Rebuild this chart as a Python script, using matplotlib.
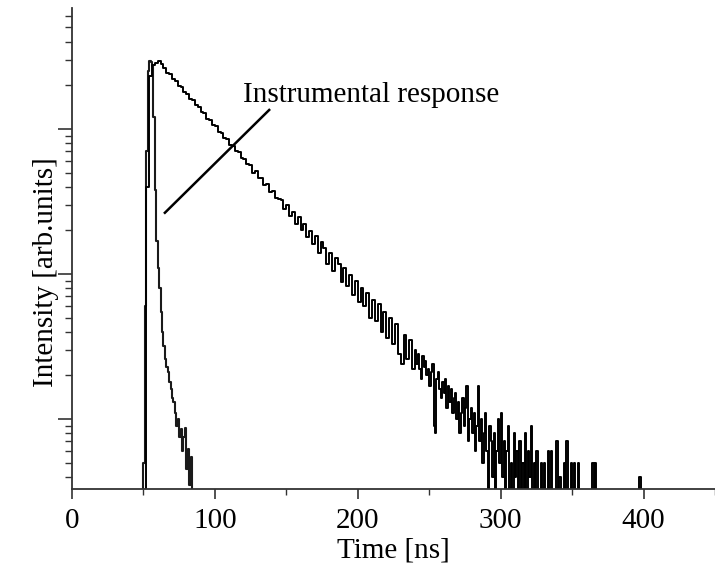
import numpy as np
import matplotlib
matplotlib.use("Agg")
import matplotlib.pyplot as plt
from matplotlib.ticker import LogLocator, NullFormatter, MultipleLocator

plt.rcParams['font.family'] = ['Liberation Serif', 'DejaVu Serif']

# decay curve, first part in 2 ns bins starting at 46 ns
head_t0, head_dt = 46, 2
decay_head = [0.5, 0.5, 3, 400, 2300, 2750, 2850, 2950, 2780, 2640,
              2430, 2390, 2200, 2150, 1960, 1950, 1790, 1750, 1600, 1580,
              1450, 1420, 1300, 1290, 1170, 1150, 1060, 1040, 950, 940,
              860, 850, 770, 760, 700, 690, 630, 615, 570, 560,
              500, 510, 460, 455, 410, 415, 370, 375, 335, 330,
              325, 280, 300, 250, 268, 222, 245, 200, 222, 180,
              198, 160, 182, 140, 165, 150, 118, 140, 105, 128,
              118, 88, 110, 82, 98, 72, 90, 64, 80, 60,
              74, 50, 66, 47, 62, 40, 55, 36, 50, 33,
              45, 28, 24, 38, 26, 35, 22]

# decay curve, tail in 1 ns bins starting at 240 ns
tail_t0, tail_dt = 240, 1
decay_tail = [30, 24, 28, 22, 19, 27, 23, 25, 20, 22,
              17, 21, 24, 9, 8, 19, 21, 16, 14, 18,
              15, 19, 12, 17, 13, 16, 11, 14, 15, 10,
              13, 8, 11, 14, 9, 12, 17, 7, 10, 12,
              8, 11, 6, 9, 17, 7, 10, 5, 8, 11,
              6, 3, 9, 7, 4, 8, 2, 6, 10, 5,
              11, 4, 7, 2, 6, 9, 3, 5, 1, 8,
              4, 6, 2, 7, 1, 5, 3, 8, 0.5, 6,
              4, 9, 2, 5, 0.5, 6, 3, 0.5, 5, 1,
              5, 0.5, 3, 6, 0.5, 6, 2, 0.5, 0.5, 7,
              0.5, 4, 0.5, 0.5, 5, 0.5, 7, 0.5, 0.5, 5,
              0.5, 5, 0.5, 0.5, 5, 0.5, 0.5, 1, 0.5, 0.5,
              0.5, 0.5, 0.5, 0.5, 5, 0.5, 5, 0.5, 0.5, 0.5,
              0.5, 0.5, 0.5, 0.5, 0.5, 0.5, 0.5, 0.5, 0.5, 0.5,
              0.5, 0.5, 0.5, 0.5, 0.5, 0.5, 0.5, 0.5, 0.5, 0.5,
              0.5, 0.5, 0.5, 0.5, 0.5, 0.5, 0.5, 4, 0.5, 0.5,
              0.5]

# instrumental response, 1 ns bins starting at 46 ns
irf_t0, irf_dt = 46, 1
irf = [0.5, 0.5, 0.5, 2, 5, 60, 700, 2500, 2950, 2900,
       2700, 1200, 380, 170, 110, 80, 55, 40, 32, 26,
       23, 21, 18, 16, 14, 13, 11, 9, 10, 7.5,
       8.5, 6, 7.5, 8.7, 4.5, 6.2, 3.5, 5.5, 0.5, 0.5]

# annotation pointer
label_text = "Instrumental response"
pointer_t = [65, 138]
pointer_i = [264, 1350]

decay_time = np.concatenate([head_t0 + head_dt * np.arange(len(decay_head)),
                             tail_t0 + tail_dt * np.arange(len(decay_tail))])
decay = np.concatenate([decay_head, decay_tail])
irf_time = irf_t0 + irf_dt * np.arange(len(irf))

fig = plt.figure(figsize=(7.15, 5.66), dpi=100)
ax = fig.add_axes([0.1007, 0.136, 0.8993, 0.850])

ax.step(irf_time, irf, where='post', color='#1a1a1a', lw=1.5)
ax.step(decay_time, decay, where='post', color='black', lw=1.4)

ax.plot(pointer_t, pointer_i, color='black', lw=1.8)
ax.text(120, 1700, label_text, fontsize=21, ha='left', va='center')

ax.set_yscale('log', nonpositive='clip')
ax.set_ylim(3.29, 6820)
ax.set_xlim(0, 450)

ax.yaxis.set_major_locator(LogLocator(base=10))
ax.yaxis.set_minor_locator(LogLocator(base=10, subs=np.arange(2, 10)))
ax.yaxis.set_major_formatter(NullFormatter())
ax.yaxis.set_minor_formatter(NullFormatter())

ax.xaxis.set_major_locator(MultipleLocator(100))
ax.xaxis.set_minor_locator(MultipleLocator(50))

for s in ['top', 'right']:
    ax.spines[s].set_visible(False)
for s in ['left', 'bottom']:
    ax.spines[s].set_linewidth(1.3)
    ax.spines[s].set_color('#333333')

ax.tick_params(axis='y', which='major', length=10, width=1.2, direction='out', color='#333333')
ax.tick_params(axis='y', which='minor', length=5, width=1.0, direction='out', color='#333333')
ax.tick_params(axis='x', which='major', length=7, width=1.2, direction='out', labelsize=21, pad=7, color='#333333')
ax.tick_params(axis='x', which='minor', length=4, width=1.0, direction='out', color='#333333')

ax.set_xlabel('Time [ns]', fontsize=21, labelpad=2)
ax.set_ylabel('Intensity [arb.units]', fontsize=21)
ax.yaxis.set_label_coords(-0.020, 0.45)

fig.savefig('out.png', dpi=100)
